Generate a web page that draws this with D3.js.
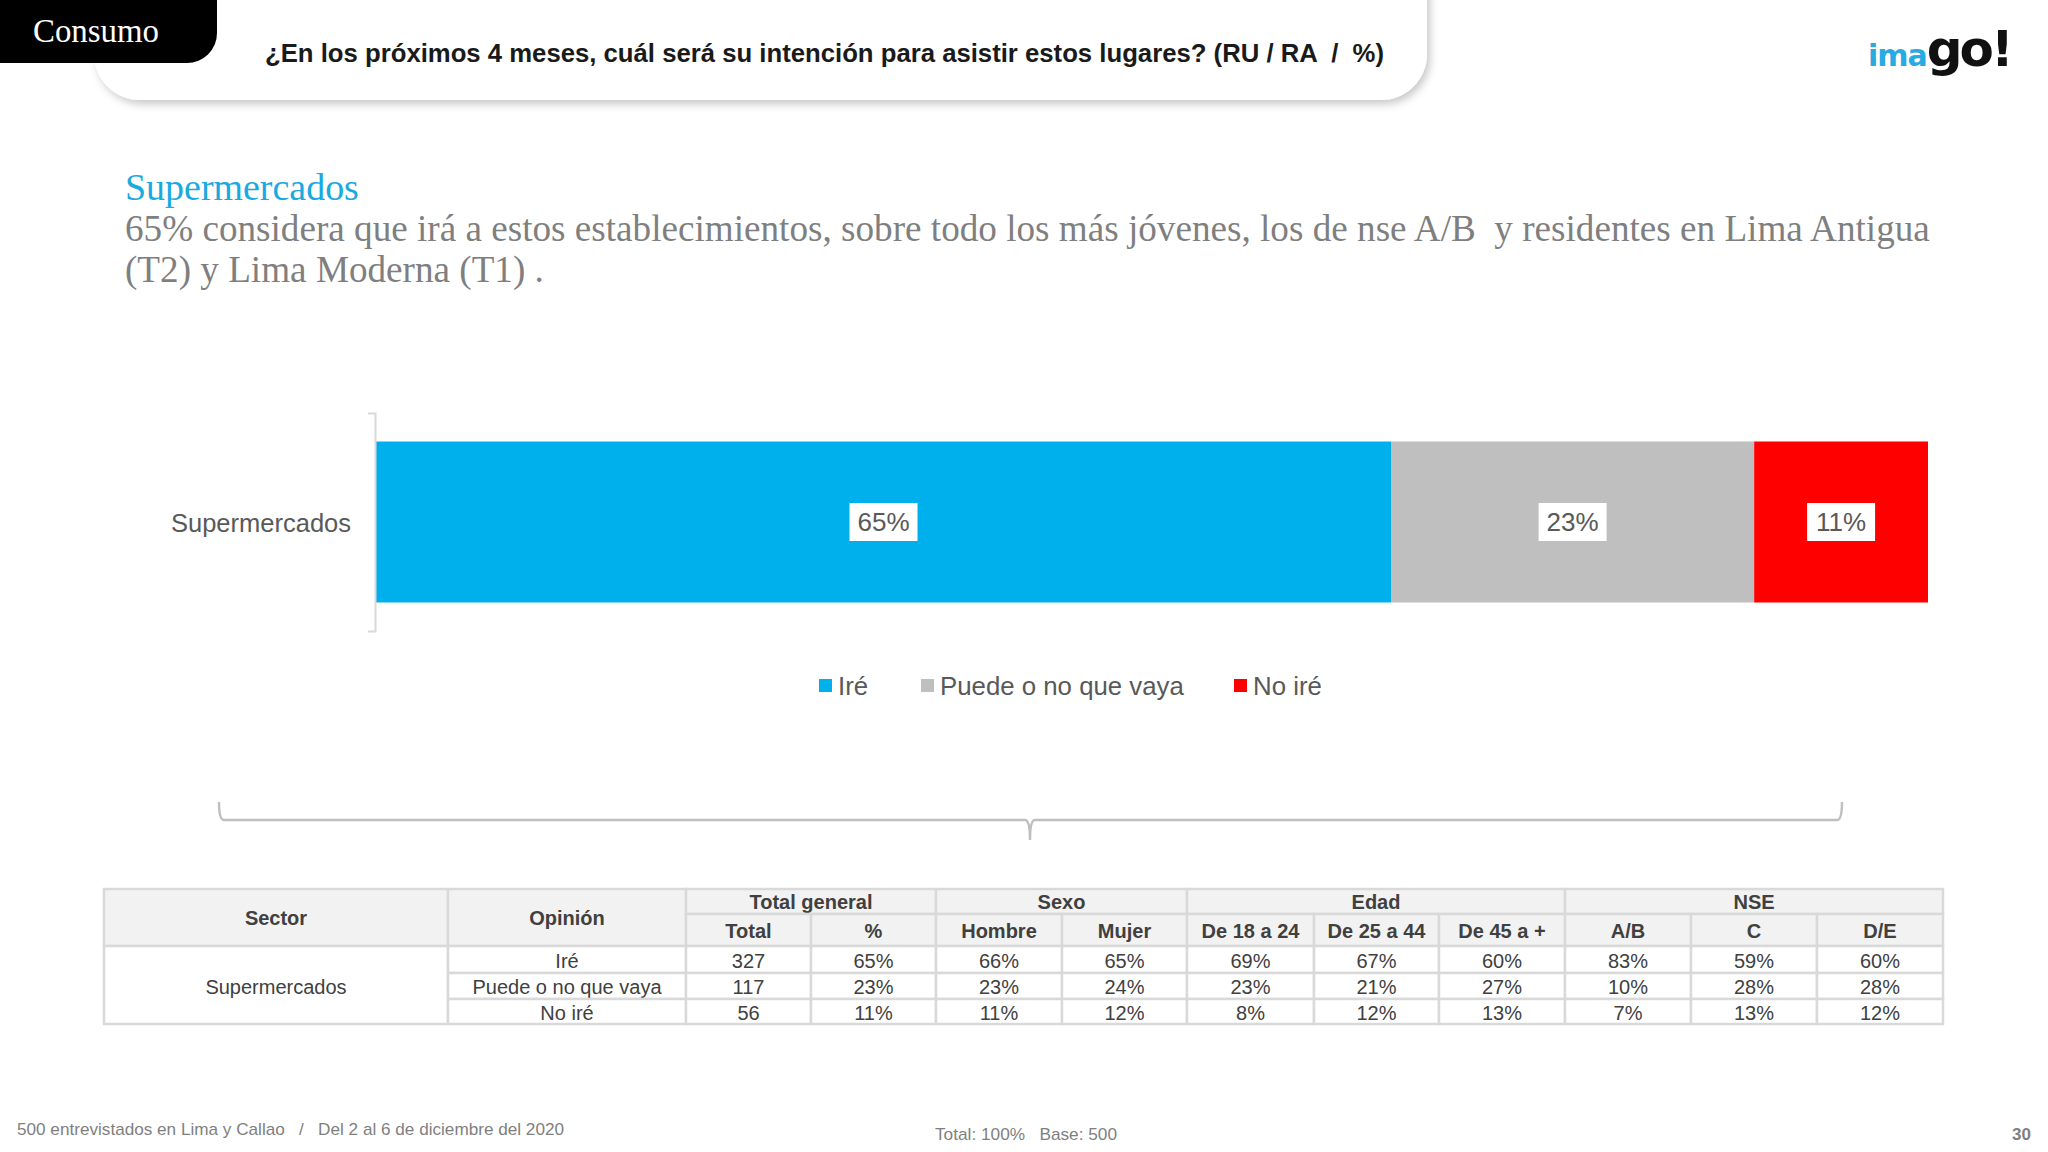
<!DOCTYPE html>
<html><head><meta charset="utf-8">
<script src="https://cdn.jsdelivr.net/npm/d3@7"></script>
<style>body{margin:0;background:#fff}svg{display:block}text{white-space:pre}</style>
</head><body>
<script>
// ---- DATA ----
const categories = ["Supermercados"];
const seriesNames = ["Iré", "Puede o no que vaya", "No iré"];
const seriesColors = ["#00b0ec", "#bfbfbf", "#ff0000"];
const totals = [327, 117, 56];          // Total general counts
const pctLabels = [65, 23, 11];         // % shown
const tableCols = ["Hombre", "Mujer", "De 18 a 24", "De 25 a 44", "De 45 a +", "A/B", "C", "D/E"];
const hombre = [66, 23, 11];
const mujer = [65, 24, 12];
const edad1824 = [69, 23, 8];
const edad2544 = [67, 21, 12];
const edad45 = [60, 27, 13];
const nseAB = [83, 10, 7];
const nseC = [59, 28, 13];
const nseDE = [60, 28, 12];
const groups = [["Total general", 2], ["Sexo", 2], ["Edad", 3], ["NSE", 3]];

const W = 2048, H = 1152;
const svg = d3.select("body").append("svg").attr("width", W).attr("height", H);
const defs = svg.append("defs");
const f = defs.append("filter").attr("id", "sh").attr("x", "-5%").attr("y", "-50%").attr("width", "110%").attr("height", "200%");
f.append("feDropShadow").attr("dx", 3).attr("dy", 4).attr("stdDeviation", 4).attr("flood-color", "#000").attr("flood-opacity", 0.22);

const SANS = "'Liberation Sans', Arial, sans-serif";
const SERIF = "'Liberation Serif', 'Times New Roman', serif";

function fit(sel, target) {
  const w = sel.node().getComputedTextLength();
  const fs = parseFloat(sel.attr("font-size"));
  sel.attr("font-size", fs * target / w);
  return fs * target / w;
}

// ---- HEADER ----
svg.append("rect").attr("x", 94).attr("y", -60).attr("width", 1333).attr("height", 160)
  .attr("rx", 46).attr("fill", "#fff").attr("filter", "url(#sh)");
svg.append("rect").attr("x", -40).attr("y", -40).attr("width", 257).attr("height", 103)
  .attr("rx", 30).attr("fill", "#000");
const cons = svg.append("text").attr("x", 33).attr("y", 42).attr("font-family", SERIF)
  .attr("font-size", 30).attr("fill", "#fff").text("Consumo");
fit(cons, 126);
svg.append("text").attr("x", 265).attr("y", 62).attr("font-family", SANS).attr("font-weight", "bold")
  .attr("font-size", 25).attr("fill", "#1a1a1a").attr("textLength", 1119).attr("lengthAdjust", "spacingAndGlyphs")
  .text("¿En los próximos 4 meses, cuál será su intención para asistir estos lugares? (RU / RA  /  %)");

// logo
const logo = svg.append("text").attr("y", 66).attr("font-family", "'DejaVu Sans', sans-serif").attr("font-weight", "bold");
logo.append("tspan").attr("x", 1868).attr("font-size", 30).attr("fill", "#29abe2").attr("letter-spacing", -1).text("ima");
logo.append("tspan").attr("font-size", 50).attr("fill", "#111").attr("letter-spacing", -3).text("go!");

// ---- TITLE ----
const t1 = svg.append("text").attr("x", 125).attr("y", 200).attr("font-family", SERIF)
  .attr("font-size", 38).attr("fill", "#1aa9e0").text("Supermercados");
fit(t1, 234);
const s1 = svg.append("text").attr("x", 125).attr("y", 241).attr("font-family", SERIF)
  .attr("font-size", 36).attr("fill", "#7f7f7f")
  .text("65% considera que irá a estos establecimientos, sobre todo los más jóvenes, los de nse A/B  y residentes en Lima Antigua");
const sfs = fit(s1, 1805);
svg.append("text").attr("x", 125).attr("y", 282).attr("font-family", SERIF)
  .attr("font-size", sfs).attr("fill", "#7f7f7f").text("(T2) y Lima Moderna (T1) .");

// ---- BAR CHART ----
const sumTot = d3.sum(totals);
const shares = totals.map(v => v / sumTot * 100);
const x = d3.scaleLinear().domain([0, 100]).range([376, 1928]);
const y = d3.scaleBand().domain(categories).range([413, 631]).paddingInner(0).paddingOuter(0.177);

const stackData = categories.map(c => {
  const o = { cat: c };
  seriesNames.forEach((s, i) => o[s] = shares[i]);
  return o;
});
const stacked = d3.stack().keys(seriesNames)(stackData);
const g = svg.append("g");
g.selectAll("rect.seg").data(stacked).join("rect").attr("class", "seg")
  .attr("x", d => x(d[0][0])).attr("width", d => x(d[0][1]) - x(d[0][0]))
  .attr("y", y(categories[0])).attr("height", y.bandwidth())
  .attr("fill", (d, i) => seriesColors[i]);

const ax = svg.append("g").attr("transform", "translate(375,0)")
  .call(d3.axisLeft(y).tickSizeInner(0).tickSizeOuter(7).tickPadding(24));
ax.select(".domain").attr("stroke", "#d9d9d9").attr("stroke-width", 2);
ax.selectAll("text").attr("font-family", SANS).attr("font-size", 25.5).attr("fill", "#595959").attr("dy", "0.4em");

// data labels
const lab = svg.append("g").selectAll("g").data(stacked).join("g")
  .attr("transform", d => `translate(${(x(d[0][0]) + x(d[0][1])) / 2},${y(categories[0]) + y.bandwidth() / 2})`);
lab.append("rect").attr("x", -34).attr("y", -19).attr("width", 68).attr("height", 38).attr("fill", "#fff");
lab.append("text").attr("text-anchor", "middle").attr("dy", "0.36em").attr("font-family", SANS)
  .attr("font-size", 26).attr("fill", "#595959").text((d, i) => pctLabels[i] + "%");

// legend
const legStarts = [819, 921, 1234];
const leg = svg.append("g").selectAll("g").data(seriesNames).join("g")
  .attr("transform", (d, i) => `translate(${legStarts[i]},686)`);
leg.append("rect").attr("x", 0).attr("y", -7).attr("width", 13).attr("height", 13).attr("fill", (d, i) => seriesColors[i]);
leg.append("text").attr("x", 19).attr("dy", "0.36em").attr("font-family", SANS).attr("font-size", 25.8)
  .attr("fill", "#595959").text(d => d);

// ---- BRACKET ----
svg.append("path").attr("fill", "none").attr("stroke", "#bfbfbf").attr("stroke-width", 2.5)
  .attr("d", "M219,802 Q219,820 224,820 L1025,820 Q1030,820 1030,840 Q1030,820 1035,820 L1837,820 Q1842,820 1842,802");

// ---- TABLE ----
const colX = [104, 448, 686, 811, 936, 1062, 1187, 1314, 1439, 1565, 1691, 1817, 1943];
const rowY = [889, 914, 946, 973, 999, 1024];
const tg = svg.append("g");
const BORDER = "#d9d9d9", HBG = "#f2f2f2", TXT = "#404040";
function cell(x0, x1, y0, y1, fill) {
  tg.append("rect").attr("x", x0).attr("y", y0).attr("width", x1 - x0).attr("height", y1 - y0)
    .attr("fill", fill).attr("stroke", BORDER).attr("stroke-width", 2.5);
}
function txt(cx, cy, s, bold) {
  tg.append("text").attr("x", cx).attr("y", cy + 1).attr("dy", "0.36em").attr("text-anchor", "middle")
    .attr("font-family", SANS).attr("font-size", 20).attr("font-weight", bold ? "bold" : "normal")
    .attr("fill", TXT).text(s);
}
// header
cell(colX[0], colX[1], rowY[0], rowY[2], HBG); txt((colX[0] + colX[1]) / 2, 917, "Sector", true);
cell(colX[1], colX[2], rowY[0], rowY[2], HBG); txt((colX[1] + colX[2]) / 2, 917, "Opinión", true);
let ci = 2;
groups.forEach(([name, span]) => {
  cell(colX[ci], colX[ci + span], rowY[0], rowY[1], HBG);
  txt((colX[ci] + colX[ci + span]) / 2, 901, name, true);
  ci += span;
});
const subHeads = ["Total", "%"].concat(tableCols);
subHeads.forEach((h, i) => {
  cell(colX[i + 2], colX[i + 3], rowY[1], rowY[2], HBG);
  txt((colX[i + 2] + colX[i + 3]) / 2, 930, h, true);
});
// body
cell(colX[0], colX[1], rowY[2], rowY[5], "#fff");
txt((colX[0] + colX[1]) / 2, 986, categories[0], false);
const colsData = [totals, pctLabels.map(v => v + "%")].concat(
  [hombre, mujer, edad1824, edad2544, edad45, nseAB, nseC, nseDE].map(a => a.map(v => v + "%")));
seriesNames.forEach((op, r) => {
  const y0 = rowY[2 + r], y1 = rowY[3 + r], cy = (y0 + y1) / 2;
  cell(colX[1], colX[2], y0, y1, "#fff"); txt((colX[1] + colX[2]) / 2, cy, op, false);
  colsData.forEach((col, c) => {
    cell(colX[c + 2], colX[c + 3], y0, y1, "#fff");
    txt((colX[c + 2] + colX[c + 3]) / 2, cy, String(col[r]), false);
  });
});

// ---- FOOTER ----
svg.append("text").attr("x", 17).attr("y", 1135).attr("font-family", SANS).attr("font-size", 17)
  .attr("fill", "#7f7f7f").attr("textLength", 547).attr("lengthAdjust", "spacingAndGlyphs")
  .text("500 entrevistados en Lima y Callao   /   Del 2 al 6 de diciembre del 2020");
svg.append("text").attr("x", 935).attr("y", 1140).attr("font-family", SANS).attr("font-size", 17)
  .attr("fill", "#7f7f7f").attr("textLength", 182).attr("lengthAdjust", "spacingAndGlyphs")
  .text("Total: 100%   Base: 500");
svg.append("text").attr("x", 2031).attr("y", 1140).attr("text-anchor", "end").attr("font-family", SANS)
  .attr("font-size", 17).attr("font-weight", "bold").attr("fill", "#7f7f7f").text("30");
</script>
</body></html>
